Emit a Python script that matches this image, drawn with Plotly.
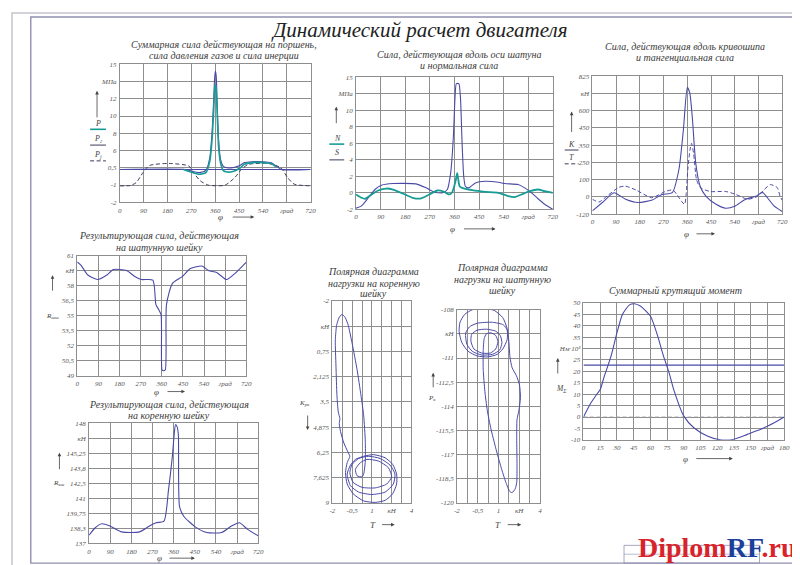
import plotly.graph_objects as go

W, H = 800, 565

# ---------------- DATA ----------------
deg_ticks = [0, 90, 180, 270, 360, 450, 540, 630, 720]
deg_text = ['0', '90', '180', '270', '360', '450', '540', 'град', '720']
grid8 = [0, 1, 2, 3, 4, 5, 6, 7, 8]

# Chart 1: total force on piston, gas force, inertia force (grid units)
c1_ytext = ['-2', '-1', '0,5', '6', '8', '10', '12', 'МПа', '15']
c1_base = 1.9
pj_deg = [0, 40, 62, 87, 112, 186, 261, 279, 304, 335, 397, 434, 459, 484, 559, 608, 633, 658, 720]
pj_val = [0.95, 0.97, 1.14, 1.71, 2.13, 2.25, 2.1, 1.7, 1.24, 0.99, 0.99, 1.43, 1.9, 2.19, 2.25, 2.0, 1.43, 1.05, 0.95]
pg_deg = [0, 250, 275, 300, 325, 340, 348, 354, 358, 361, 364, 368, 373, 380, 390, 405, 430, 455, 470, 500, 540, 570, 590, 610, 720]
pg_val = [1.9, 1.9, 1.78, 1.72, 1.85, 2.6, 4.0, 5.8, 7.2, 7.6, 7.3, 5.5, 3.6, 2.5, 2.1, 2.0, 2.02, 2.15, 2.3, 2.35, 2.35, 2.3, 2.1, 1.9, 1.9]
p_deg = [240, 275, 300, 325, 340, 348, 354, 358, 361, 364, 368, 373, 380, 390, 405, 430, 455, 470, 500, 540, 570, 590]
p_val = [1.9, 1.72, 1.62, 1.72, 2.4, 3.6, 5.2, 6.5, 6.8, 6.5, 5.0, 3.2, 2.3, 1.85, 1.75, 1.8, 2.0, 2.2, 2.3, 2.3, 2.25, 2.05]

# Chart 2: force along con-rod S and normal force N (grid units)
c2_ytext = ['-2', '0', '2', '4', '6', '8', '10', 'МПа', '15']
s_deg = [0, 20, 45, 69, 93, 135, 219, 256, 286, 316, 334, 346, 356, 362, 367, 376, 382, 388, 394, 400, 412, 437, 473, 521, 545, 593, 617, 642, 666, 690, 720]
s_val = [0.06, 0.2, 0.69, 1.19, 1.45, 1.55, 1.53, 1.29, 1.03, 0.99, 1.19, 2.18, 4.37, 6.75, 7.6, 7.6, 6.75, 3.97, 1.98, 1.39, 1.29, 1.59, 1.69, 1.63, 1.55, 1.49, 1.29, 0.99, 0.63, 0.3, 0.0]
n_deg = [0, 20, 33, 57, 81, 111, 135, 171, 207, 238, 268, 298, 322, 340, 352, 364, 370, 374, 379, 388, 425, 473, 521, 557, 581, 605, 636, 666, 690, 720]
n_val = [0.89, 0.69, 0.63, 0.89, 1.13, 1.25, 1.19, 0.95, 0.69, 0.65, 0.89, 1.13, 1.05, 0.89, 1.03, 1.69, 2.18, 1.79, 1.39, 1.29, 1.15, 1.05, 0.99, 0.79, 0.73, 0.89, 1.09, 1.19, 1.09, 0.99]

# Chart 3: force along crank K and tangential force T (grid units)
c3_ytext = ['-120', '0', '100', '250', '350', '450', '600', 'кН', '825']
k_deg = [0, 38, 82, 126, 174, 227, 265, 303, 328, 345, 360, 369, 379, 392, 409, 431, 469, 506, 540, 581, 619, 645, 656, 690, 720]
k_val = [0.19, 0.67, 1.24, 0.86, 0.67, 0.82, 1.14, 1.24, 2.57, 4.86, 7.33, 7.05, 5.6, 2.95, 1.6, 1.03, 0.57, 0.34, 0.46, 0.86, 1.03, 1.26, 1.1, 0.46, 0.15]
t_deg = [0, 25, 60, 100, 125, 165, 225, 275, 305, 322, 340, 350, 356, 362, 370, 376, 384, 395, 409, 446, 506, 544, 589, 626, 652, 675, 701, 712, 720]
t_val = [0.86, 0.7, 1.1, 1.55, 1.62, 1.4, 0.95, 1.3, 1.4, 1.1, 0.7, 0.57, 1.2, 2.6, 3.7, 4.1, 3.5, 2.0, 1.54, 1.31, 1.31, 1.14, 0.86, 1.03, 1.43, 1.71, 1.54, 1.03, 0.8]

# Chart 4: resultant force on crank-pin journal, kN
c4_yvals = [49, 50.5, 52, 53.5, 55, 56.5, 58, 59.5, 61]
c4_ytext = ['49', '50,5', '52', '53,5', '55', '56,5', '58', 'кН', '61']
rsh_deg = [0, 17, 45, 87, 126, 154, 210, 245, 273, 322, 335, 347, 357, 361, 367, 375, 380, 405, 447, 482, 531, 559, 594, 636, 671, 720]
rsh_val = [60.35, 60.0, 59.05, 58.6, 59.05, 59.6, 59.5, 58.9, 58.6, 58.55, 56.1, 55.6, 55.1, 49.6, 49.5, 49.6, 56.1, 58.2, 58.9, 59.7, 59.95, 59.5, 59.3, 58.6, 59.2, 60.35]

# Chart 5: resultant force on main journal, kN
c5_yvals = [137, 138.375, 139.75, 141.125, 142.5, 143.875, 145.25, 146.625, 148]
c5_ytext = ['137', '138,3', '139,75', '141', '142,5', '143,8', '145,25', 'кН', '148']
rk_deg = [0, 26, 54, 89, 138, 215, 257, 285, 319, 338, 354, 362, 368, 374, 380, 385, 403, 452, 501, 564, 606, 640, 675, 720]
rk_val = [137.75, 138.43, 138.79, 138.58, 138.05, 138.05, 138.58, 138.88, 139.04, 141.87, 144.84, 146.9, 147.86, 147.7, 146.96, 140.38, 139.48, 138.51, 137.99, 137.99, 138.58, 138.88, 138.28, 137.69]

# Chart 6: polar load diagram, main journal (T, K)
c6_xvals = [-2, -1.25, -0.5, 0.25, 1, 1.75, 2.5, 3.25, 4]
c6_xtext = ['-2', '', '-0,5', '', '1', '', 'кН', '', '4']
c6_yvals = [-2, -0.625, 0.75, 2.125, 3.5, 4.875, 6.25, 7.625, 9]
c6_ytext = ['-2', 'кН', '0,75', '2,125', '3,5', '4,875', '6,25', '7,625', '9']
pm_t = [0.375, 0.5, 0.5, 0.375, 0.175, -0.125, -0.5, -0.825, -1.075, -1.3, -1.5, -1.675, -1.775, -1.725, -1.65, -1.55, -1.425, -1.475, -1.375, -1.125, -0.825, -0.675, -0.875, -1.0, -0.875, -0.425, 0.375, 1.25, 2.0, 2.575, 2.875, 2.875, 2.575, 2.0, 1.125, 0.375, -0.25, -0.625, -0.875, -0.625, 0.0, 1.0, 2.0, 2.625, 2.75, 2.375, 1.625, 0.75, 0.0, -0.5, -0.675, -0.425, 0.25, 1.25, 2.125, 2.5, 2.25, 1.5, 0.625, 0.125, -0.25, -0.125, 0.25, 0.375]
pm_k = [7.43, 6.72, 5.65, 4.23, 3.16, 1.74, 0.31, -0.75, -1.15, -1.25, -1.07, -0.67, 0.14, 1.56, 3.16, 4.05, 4.41, 4.68, 5.12, 5.74, 6.22, 6.46, 6.81, 7.35, 7.97, 8.5, 8.89, 8.97, 8.86, 8.5, 7.97, 7.43, 6.9, 6.54, 6.37, 6.46, 6.63, 6.94, 7.43, 8.06, 8.41, 8.54, 8.41, 7.97, 7.43, 6.94, 6.58, 6.46, 6.58, 6.9, 7.35, 7.88, 8.15, 8.18, 7.97, 7.58, 7.08, 6.72, 6.63, 6.81, 7.17, 7.52, 7.58, 7.43]

# Chart 7: polar load diagram, crank-pin journal (T, Pk)
c7_yvals = [-120, -118.5, -117, -115.5, -114, -112.5, -111, -109.5, -108]
c7_ytext = ['-120', '-118,5', '-117', '-115,5', '-114', '-112,5', '-111', 'кН', '-108']
pr_t = [1.985, 2.21, 2.32, 2.34, 2.32, 2.34, 2.48, 2.59, 2.52, 2.30, 1.99, 1.83, 1.76, 1.63, 1.31, 0.69, -0.10, -0.88, -1.44, -1.78, -1.84, -1.64, -1.19, -0.54, 0.24, 0.91, 1.31, 1.63, 1.63, 1.36, 0.57, -0.54, -1.10, -1.37, -1.28, -0.88, -0.21, 0.57, 1.09, 1.25, 1.13, 0.80, 0.13, -0.54, -0.93, -0.99, -0.77, -0.21, 0.42, 0.80, 0.96, 0.80, 0.46, 0.13, -0.03, -0.10, -0.10, 0.02, 0.19, 0.46, 0.80, 1.18, 1.54, 1.81, 1.985]
pr_k = [-119.36, -119.12, -118.73, -117.56, -116.0, -114.83, -114.24, -113.46, -112.68, -112.10, -111.61, -110.93, -110.05, -109.17, -108.49, -108.04, -107.92, -108.0, -108.29, -108.78, -109.37, -110.05, -110.58, -110.87, -110.93, -110.77, -110.44, -109.85, -109.27, -108.94, -108.78, -108.84, -109.07, -109.46, -110.15, -110.59, -110.81, -110.77, -110.50, -110.05, -109.60, -109.33, -109.21, -109.27, -109.52, -109.95, -110.44, -110.69, -110.69, -110.44, -109.99, -109.60, -109.44, -109.50, -109.79, -110.54, -111.71, -113.07, -114.24, -115.41, -116.58, -117.76, -118.73, -119.28, -119.36]

# Chart 8: total torque, N*m*10^3
c8_xvals = [0, 15, 30, 45, 60, 75, 90, 105, 120, 135, 150, 165, 180]
c8_xtext = ['0', '15', '30', '45', '60', '75', '90', '105', '120', '135', '150', 'град', '180']
c8_yvals = [-10, -5, 0, 5, 10, 15, 20, 25, 30, 35, 40, 45, 50]
c8_ytext = ['-10', '-5', '0', '5', '10', '15', '20', '25', 'Нм·10³', '35', '40', '45', '50']
m_deg = [0, 6.6, 12.6, 15, 18.5, 24.5, 30.5, 35, 41, 45.5, 51, 60, 66, 72, 77, 81, 90, 99, 111, 123, 135, 147, 159, 171, 180]
m_val = [0, 6.1, 10.4, 12.0, 17.6, 26.3, 37.8, 45, 49, 49.6, 48.6, 44.2, 36.3, 26.3, 19, 11.9, 0.4, -4.7, -8.3, -10, -9.7, -7.6, -5.4, -2.5, 0]
m_mean = 22.7

# ---------------- STYLE ----------------
NAVY = '#4a4aa6'
TEAL = '#169c95'
DARK = '#3c3c5c'
GRID = '#8e8e8e'
TXT = '#3a3a3a'
SERIF = 'Liberation Serif'
DASH = '4px,2.5px'


def px_x(p):
    return p / W


def px_y(p):
    return 1 - p / H


def dom(x0, x1, y0, y1):
    return [x0 / W, x1 / W], [1 - y1 / H, 1 - y0 / H]


tickf = dict(family=SERIF, size=7, color='#555555', style='italic')


def axis(domain, rng, tv, tt, anchor):
    return dict(domain=domain, range=rng, tickvals=tv, ticktext=tt, anchor=anchor,
                showgrid=True, gridcolor=GRID, gridwidth=0.6, showline=True,
                linecolor=GRID, linewidth=0.7, mirror=True, zeroline=False,
                ticks='', tickfont=tickf, fixedrange=True, ticklabelstandoff=1)


fig = go.Figure()
layout = {}

charts = [
    # (x0, x1, y0, y1, xrange, xtv, xtt, yrange, ytv, ytt)
    (110, 303, 53, 193, [0, 720], deg_ticks, deg_text, [0, 8], grid8, c1_ytext),
    (349, 548, 66, 200, [0, 720], deg_ticks, deg_text, [0, 8], grid8, c2_ytext),
    (588, 780, 65, 205, [0, 720], deg_ticks, deg_text, [0, 8], grid8, c3_ytext),
    (67, 238, 247, 369, [0, 720], deg_ticks, deg_text, [49, 61], c4_yvals, c4_ytext),
    (79, 250, 417, 539, [0, 720], deg_ticks, deg_text, [137, 148], c5_yvals, c5_ytext),
    (325, 405, 293, 498, [-2, 4], c6_xvals, c6_xtext, [9, -2], c6_yvals, c6_ytext),
    (451, 535, 302, 498, [-2, 4], c6_xvals, c6_xtext, [-120, -108], c7_yvals, c7_ytext),
    (579, 782, 295, 434, [0, 180], c8_xvals, c8_xtext, [-10, 50], c8_yvals, c8_ytext),
]
for i, (x0, x1, y0, y1, xr, xtv, xtt, yr, ytv, ytt) in enumerate(charts, start=1):
    dx, dy = dom(x0, x1, y0, y1)
    sfx = '' if i == 1 else str(i)
    layout['xaxis' + sfx] = axis(dx, xr, xtv, xtt, 'y' + sfx)
    layout['yaxis' + sfx] = axis(dy, yr, ytv, ytt, 'x' + sfx)


def line(x, y, ax, color, width=1.0, dash='solid', shape='spline'):
    sfx = '' if ax == 1 else str(ax)
    fig.add_trace(go.Scatter(x=x, y=y, mode='lines', xaxis='x' + sfx, yaxis='y' + sfx,
                             line=dict(color=color, width=width, dash=dash, shape=shape,
                                       smoothing=0.6 if shape == 'spline' else None),
                             hoverinfo='skip', showlegend=False))


# chart 1
line([0, 720], [c1_base, c1_base], 1, NAVY, 1.1, shape='linear')
line(pj_deg, pj_val, 1, DARK, 1.0, DASH)
line(pg_deg, pg_val, 1, NAVY, 1.1)
line(p_deg, p_val, 1, TEAL, 1.6)
# chart 2
line(s_deg, s_val, 2, NAVY, 1.1)
line(n_deg, n_val, 2, TEAL, 1.8)
# chart 3
line(t_deg, t_val, 3, NAVY, 1.0, DASH)
line(k_deg, k_val, 3, NAVY, 1.1)
# chart 4
line(rsh_deg, rsh_val, 4, NAVY, 1.1)
# chart 5
line(rk_deg, rk_val, 5, NAVY, 1.1)
# chart 6
line(pm_t, pm_k, 6, NAVY, 1.0)
# chart 7
line(pr_t, pr_k, 7, NAVY, 1.0)
# chart 8
line([0, 180], [0, 0], 8, '#9a9a9a', 0.8, DASH, shape='linear')
line([0, 180], [m_mean, m_mean], 8, NAVY, 1.2, shape='linear')
line(m_deg, m_val, 8, NAVY, 1.1)

ann = []
shapes = []


def text(px, py, t, size=10, color=TXT, italic=True, family=SERIF, xanchor='center'):
    ann.append(dict(x=px_x(px), y=px_y(py), xref='paper', yref='paper', text=t,
                    showarrow=False, xanchor=xanchor, yanchor='middle',
                    font=dict(family=family, size=size, color=color,
                              style='italic' if italic else 'normal')))


def arrow(hx, hy, tx, ty):
    ann.append(dict(x=px_x(hx), y=px_y(hy), xref='paper', yref='paper', text='',
                    showarrow=True, ax=tx - hx, ay=ty - hy, axref='pixel', ayref='pixel',
                    arrowhead=2, arrowsize=0.9, arrowwidth=0.8, arrowcolor='#444444',
                    font=dict(size=8)))


def seg(x0, y0, x1, y1, color, width=1.0, dash='solid'):
    shapes.append(dict(type='line', xref='paper', yref='paper', x0=px_x(x0), y0=px_y(y0),
                       x1=px_x(x1), y1=px_y(y1), line=dict(color=color, width=width, dash=dash)))


# frame
shapes.append(dict(type='rect', xref='paper', yref='paper', x0=px_x(1), y0=px_y(1),
                   x1=px_x(799), y1=px_y(564), line=dict(color='#c4c4cc', width=1.5)))
shapes.append(dict(type='rect', xref='paper', yref='paper', x0=px_x(20), y0=px_y(5),
                   x1=px_x(796), y1=px_y(559), line=dict(color='#9090b0', width=1.4)))
shapes.append(dict(type='rect', xref='paper', yref='paper', x0=px_x(620), y0=px_y(541),
                   x1=px_x(757), y1=px_y(559), line=dict(color='#9090b0', width=0.8)))
seg(620, 550, 757, 550, '#9090b0', 0.6)

# main title
text(413, 18, 'Динамический расчет двигателя', size=21, color='#222222')

# subtitles
text(215, 33, 'Суммарная сила действующая на поршень,')
text(215, 44, 'сила давления газов и сила инерции')
text(453, 43, 'Сила, действующая вдоль оси шатуна')
text(453, 54, 'и нормальная сила')
text(682, 35, 'Сила, действующая вдоль кривошипа')
text(682, 46, 'и тангенциальная сила')
text(150, 227, 'Результирующая сила, действующая')
text(150, 239, 'на шатунную шейку')
text(160, 398, 'Результирующая сила, действующая')
text(160, 409, 'на коренную шейку')
text(367, 263, 'Полярная диаграмма')
text(367, 275, 'нагрузки на коренную')
text(367, 286, 'шейку')
text(497, 259, 'Полярная диаграмма')
text(497, 271, 'нагрузки на шатунную')
text(497, 282, 'шейку')
text(672, 283, 'Суммарный крутящий момент')

# chart 1 legend
arrow(87, 80, 87, 108)
text(88, 113, 'P', size=8, color='#444')
seg(80, 119, 96, 119, TEAL, 1.6)
text(88, 129, 'P<sub>г</sub>', size=8, color='#444')
seg(80, 135, 96, 135, DARK, 1.0)
text(88, 145, 'P<sub>j</sub>', size=8, color='#444')
seg(80, 151, 96, 151, DARK, 1.0, DASH)
# chart 2 legend
arrow(329, 96, 329, 114)
text(330, 128, 'N', size=8, color='#444')
seg(322, 134, 337, 134, TEAL, 1.6)
text(330, 143, 'S', size=8, color='#444')
seg(322, 150, 337, 150, DARK, 1.0)
# chart 3 legend
arrow(567, 101, 567, 123)
text(567, 134, 'K', size=8, color='#444')
seg(560, 140, 574, 140, DARK, 1.0)
text(567, 148, 'T', size=8, color='#444')
seg(560, 154, 574, 154, DARK, 1.0, DASH)
# chart 4..8 axis names
arrow(42, 267, 42, 284)
text(42, 308, 'R<sub>шш</sub>', size=7, color='#444')
arrow(49, 447, 49, 465)
text(49, 478, 'R<sub>кш</sub>', size=7, color='#444')
text(297, 397, 'K<sub>рк</sub>', size=7, color='#444')
arrow(300, 424, 300, 408)
arrow(427, 366, 427, 382)
text(426, 392, 'P<sub>к</sub>', size=7, color='#444')
arrow(553, 351, 553, 368)
text(557, 382, 'M<sub>Σ</sub>', size=7.5, color='#444')

# phi / T labels with arrows
for (lx, ly, a0, a1, lab) in [(212, 208, 223, 246, 'φ'), (447, 220, 457, 490, 'φ'),
                              (683, 225, 692, 712, 'φ'), (147, 385, 157, 176, 'φ'),
                              (150, 554, 159, 186, 'φ'), (366, 520, 374, 388, 'T'),
                              (493, 520, 501, 516, 'T'), (682, 453, 692, 730, 'φ')]:
    text(lx, ly, lab, size=9, color='#444')
    arrow(a1, ly, a0, ly)

# watermark
ann.append(dict(x=px_x(796), y=px_y(543), xref='paper', yref='paper', showarrow=False,
                xanchor='right', yanchor='middle',
                text="<b><span style='color:#d8232a'>Diplom</span><span style='color:#1c3f9c'>RF</span><span style='color:#d8232a'>.ru</span></b>",
                font=dict(family=SERIF, size=28, color='#d8232a')))

fig.update_layout(**layout)
fig.update_layout(width=W, height=H, margin=dict(l=0, r=0, t=0, b=0),
                  paper_bgcolor='white', plot_bgcolor='white', showlegend=False,
                  annotations=ann, shapes=shapes)

fig.write_html('out.html')
